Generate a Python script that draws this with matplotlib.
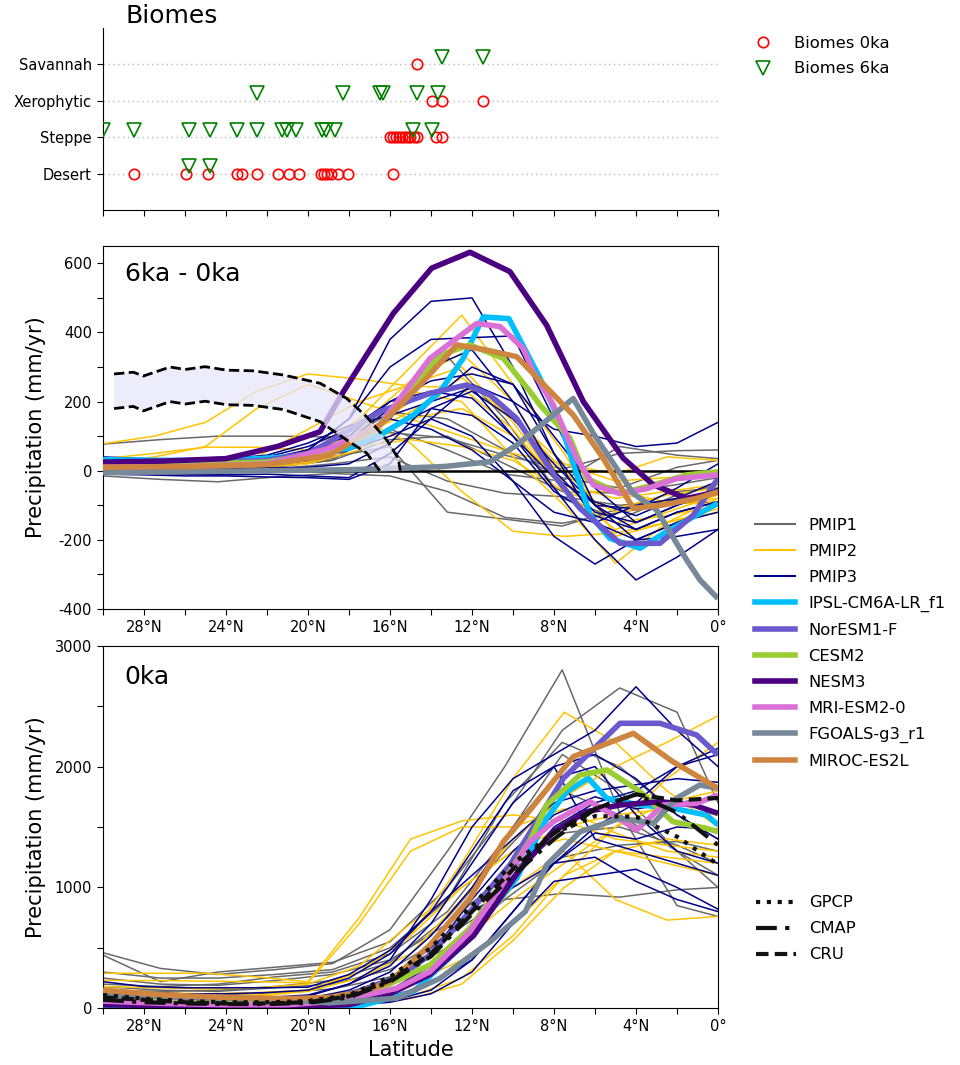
import numpy as np
import matplotlib.pyplot as plt
from matplotlib.lines import Line2D

plt.rcParams['font.family'] = ['DejaVu Sans']
plt.rcParams['axes.unicode_minus'] = False

# ---------------- biome sites (latitude) ----------------
biome_names = ['Desert', 'Steppe', 'Xerophytic', 'Savannah']
desert_0ka = [28.47, 25.97, 24.86, 23.48, 23.2, 22.47, 21.46, 20.94, 20.44, 19.35,
              19.2, 19.05, 18.9, 18.55, 18.06, 15.84]
desert_6ka = [25.79, 24.78]
steppe_0ka = [15.98, 15.85, 15.7, 15.55, 15.4, 15.25, 15.1, 15.0, 14.85, 14.7, 13.76, 13.45]
steppe_6ka = [29.98, 28.47, 25.79, 24.78, 23.48, 22.47, 21.28, 21.04, 20.59, 19.33,
              19.12, 18.68, 14.86, 13.97]
xero_0ka = [13.97, 13.45, 11.45]
xero_6ka = [22.47, 18.28, 16.49, 16.36, 14.67, 13.64]
sav_0ka = [14.67]
sav_6ka = [13.48, 11.45]

# ---------------- latitude grids of the PMIP ensembles ----------------
lat_p1 = [30, 27.2, 24.4, 21.6, 18.8, 16, 13.2, 10.4, 7.6, 4.8, 2, 0]
lat_p2 = [30, 27.5, 25, 22.5, 20, 17.5, 15, 12.5, 10, 7.5, 5, 2.5, 0]
lat_p3 = [30, 28, 26, 24, 22, 20, 18, 16, 14, 12, 10, 8, 6, 4, 2, 0]

# ---------------- 6ka - 0ka ----------------
d_p1a = [77, 90, 100, 100, 98, 110, 95, 45, 5, 50, 58, 60]
d_p1b = [-15, -25, -32, -18, -8, -15, -60, -135, -152, -120, -95, -90]
d_p1c = [5, 8, 10, 15, 30, 90, 100, 20, -60, -65, -40, -20]
d_p1d = [0, 2, 5, 10, 30, 150, 330, 150, -80, -140, -70, -40]
d_p1e = [10, 12, 15, 25, 60, 170, 150, 60, -20, -50, 10, 30]
d_p1f = [0, 0, 3, 5, 20, 40, -30, -65, -75, -100, -85, -70]
d_p1g = [5, 5, 8, 12, 40, 70, -120, -140, -160, -110, -60, -50]
d_p1h = [3, 5, 8, 15, 35, 120, 60, -10, -30, 70, 45, 35]

d_p2a = [78, 100, 140, 230, 280, 265, 245, 240, 120, -60, -170, -120, -70]
d_p2b = [35, 50, 68, 68, 60, 100, 200, 250, 150, 0, -150, -130, -100]
d_p2c = [20, 40, 70, 180, 250, 200, 150, 180, 100, -40, -120, -100, -80]
d_p2d = [10, 12, 15, 20, 50, 150, 300, 450, 250, 50, -190, -150, -80]
d_p2e = [5, 8, 10, 15, 30, 120, 230, 200, 40, -100, -268, -150, -110]
d_p2f = [15, 15, 20, 25, 50, 150, 80, -60, -175, -190, -180, -150, -120]
d_p2g = [8, 10, 12, 20, 40, 100, 170, 270, 150, 20, -30, -20, -10]
d_p2h = [0, 2, 5, 10, 20, 60, 150, 100, 50, 20, -10, 40, 30]
d_p2i = [12, 14, 18, 25, 45, 130, 260, 340, 200, -40, -80, -60, -40]
d_p2j = [3, 5, 8, 12, 25, 70, 90, 70, 30, -60, -110, -70, -50]
d_p2k = [25, 30, 35, 40, 120, 200, 250, 300, 140, -60, -60, -90, -100]

d_p3a = [5, 8, 10, 12, 20, 60, 150, 380, 490, 500, 300, 50, -150, -200, -150, -100]
d_p3b = [10, 12, 15, 20, 30, 60, 150, 300, 380, 385, 390, 150, -100, -170, -120, -90]
d_p3c = [-5, -8, -10, -12, -10, -15, -20, 50, 150, 100, -30, -190, -270, -200, -150, -120]
d_p3d = [0, 2, 5, 5, 8, 10, 20, 80, 200, 240, 100, -50, -200, -316, -250, -170]
d_p3e = [20, 22, 25, 28, 30, 40, 60, 100, 150, 250, 200, 120, 100, 70, 80, 140]
d_p3f = [30, 25, 20, 22, 30, 50, 90, 180, 300, 350, 200, 0, -120, -150, -100, -60]
d_p3g = [-10, -12, -15, -15, -18, -20, -25, 20, 180, 230, 150, 20, -100, -200, -190, -170]
d_p3h = [15, 18, 20, 25, 35, 60, 100, 200, 260, 280, 250, 100, -50, -150, -100, -50]
d_p3i = [10, 12, 15, 18, 25, 50, 80, 150, 120, 60, -30, -120, -150, -100, -80, -60]
d_p3j = [25, 28, 30, 32, 40, 70, 120, 200, 230, 210, 100, -20, -90, -130, -80, -30]
d_p3k = [5, 5, 8, 10, 15, 30, 60, 120, 180, 160, 80, -60, -130, -170, -120, -90]
d_p3l = [40, 35, 30, 35, 45, 80, 130, 160, 200, 300, 250, 50, -100, -110, -50, 20]

ipsl_d_lat = [30, 27, 24, 21, 18, 16.5, 14.86, 13.56, 12.43, 11.45, 10.2, 8.68, 7.71, 6.73,
              6.24, 5.27, 3.8, 2.5, 1.04, 0]
ipsl_d = [32, 30, 30, 40, 65, 103, 161, 229, 325, 445, 440, 267, 142, -41,
          -128, -196, -224, -176, -128, -94]
noresm_d_lat = [30, 26, 22, 20, 18.93, 16.49, 14.05, 12.26, 11.12, 9.82, 7.87, 6.73, 4.78, 2.83, 1.2, 0]
noresm_d = [20, 22, 30, 50, 84, 171, 224, 248, 219, 151, -23, -109, -210, -210, -128, -22]
cesm_d_lat = [30, 26, 22, 19, 16.8, 15.19, 13.56, 12.1, 10.47, 9.17, 8.68, 7.22, 6.41, 4.78, 3.15, 1.53, 0]
cesm_d = [15, 18, 25, 55, 113, 229, 335, 364, 325, 229, 190, 94, -22, -66, -41, -12, -3]
nesm_d_lat = [30, 27, 24, 21.5, 19.41, 18.27, 17.14, 15.84, 13.97, 12.1, 10.15, 8.36, 6.57, 4.62, 3.15, 1.53, 0]
nesm_d = [25, 28, 35, 70, 113, 229, 335, 455, 586, 632, 576, 421, 200, 36, -41, -80, -61]
mri_d_lat = [30, 26, 22, 18.93, 16.49, 14.05, 11.77, 10.63, 9.5, 9.01, 8.03, 6.9, 6.08, 4.78, 3.48, 2.02, 0]
mri_d = [10, 12, 20, 65, 132, 325, 426, 417, 354, 286, 190, 36, -41, -66, -52, -23, -12]
fgoals_d_lat = [30, 26, 22, 18, 15.68, 13.4, 11.12, 9.82, 7.06, 6.08, 4.13, 2.99, 1.53, 0.88, 0]
fgoals_d = [-5, -3, 0, 3, 7, 12, 26, 74, 209, 108, -66, -114, -258, -316, -370]
miroc_d_lat = [30, 26, 22, 18.93, 16.49, 14.54, 12.75, 11.28, 9.82, 7.06, 5.6, 4.13, 2.67, 1.04, 0]
miroc_d = [10, 12, 18, 45, 132, 248, 364, 349, 330, 161, 36, -109, -99, -80, -61]

# pollen-based reconstruction band (6ka - 0ka)
recon_hi_lat = [29.46, 28.52, 28.03, 26.73, 25.99, 25.02, 23.97, 22.67, 21.2, 19.41, 18.11,
                17.14, 16.16, 15.6, 15.5]
recon_hi = [280, 285, 274, 300, 293, 301, 291, 289, 277, 253, 209, 156, 89, 36, 0]
recon_lo_lat = [29.46, 28.52, 28.03, 26.73, 25.99, 25.02, 23.97, 22.67, 21.2, 19.41, 18.11, 17.14, 16.5]
recon_lo = [180, 186, 173, 200, 193, 201, 191, 189, 177, 142, 89, 51, 0]

# ---------------- 0ka ----------------
c_p1a = [460, 330, 280, 320, 370, 650, 1300, 2000, 2800, 1620, 850, 760]
c_p1b = [440, 220, 300, 340, 380, 550, 1000, 1600, 2300, 2650, 2450, 1700]
c_p1c = [200, 180, 200, 260, 300, 450, 800, 1400, 2100, 1800, 1300, 1100]
c_p1d = [180, 150, 140, 170, 200, 320, 600, 900, 950, 920, 980, 1000]
c_p1e = [250, 200, 190, 230, 280, 400, 700, 1100, 1450, 1500, 1350, 1200]
c_p1f = [150, 140, 150, 180, 230, 380, 750, 1300, 1800, 1600, 1300, 1000]
c_p1g = [120, 100, 110, 130, 160, 260, 500, 900, 1250, 1350, 1380, 1300]
c_p1h = [300, 250, 250, 280, 320, 500, 900, 1700, 2200, 2000, 1600, 1400]

c_p2a = [290, 290, 290, 260, 220, 750, 1400, 1550, 1600, 1550, 1400, 1350, 1300]
c_p2b = [230, 230, 225, 220, 210, 700, 1300, 1500, 1500, 1650, 1450, 1300, 1250]
c_p2c = [140, 130, 120, 130, 150, 300, 600, 1200, 1900, 2450, 2200, 1800, 1500]
c_p2d = [100, 90, 90, 100, 140, 250, 450, 900, 1400, 1750, 2000, 2200, 2420]
c_p2e = [80, 70, 60, 70, 90, 150, 300, 500, 1000, 1300, 900, 730, 760]
c_p2f = [60, 50, 50, 60, 80, 150, 250, 550, 900, 1200, 1500, 1700, 1800]
c_p2g = [30, 25, 25, 30, 40, 60, 80, 200, 560, 1000, 1300, 1400, 1350]
c_p2h = [120, 110, 100, 110, 150, 300, 600, 1000, 1300, 1500, 1600, 1650, 1600]
c_p2i = [50, 40, 40, 50, 60, 100, 200, 400, 700, 1100, 1300, 1200, 1100]
c_p2j = [180, 170, 160, 170, 200, 350, 700, 1000, 1300, 1400, 1300, 1250, 1200]
c_p2k = [20, 15, 15, 20, 30, 50, 100, 250, 600, 1100, 1500, 1900, 2200]

c_p3a = [220, 180, 170, 170, 170, 175, 280, 480, 800, 1300, 1800, 2000, 2100, 1900, 1600, 1400]
c_p3b = [80, 70, 60, 60, 70, 100, 200, 400, 900, 1500, 1900, 2100, 2300, 2660, 2300, 2000]
c_p3c = [30, 25, 20, 20, 25, 30, 50, 100, 200, 400, 800, 1200, 1450, 1400, 1500, 1480]
c_p3d = [40, 35, 30, 30, 30, 40, 60, 150, 350, 700, 1100, 1500, 1700, 1800, 2000, 2100]
c_p3e = [60, 50, 50, 50, 60, 80, 150, 300, 600, 1000, 1500, 1900, 2000, 1600, 1300, 1200]
c_p3f = [20, 15, 12, 12, 15, 20, 30, 60, 150, 400, 800, 1200, 1500, 1700, 2000, 2150]
c_p3g = [100, 90, 80, 80, 90, 110, 200, 350, 700, 1200, 1700, 2000, 1400, 1300, 1200, 1100]
c_p3h = [10, 10, 8, 8, 10, 15, 25, 50, 120, 300, 700, 1050, 1100, 1150, 1000, 820]
c_p3i = [50, 45, 40, 40, 45, 60, 100, 200, 450, 900, 1300, 1600, 1750, 1650, 1700, 1750]
c_p3j = [150, 130, 120, 120, 130, 150, 250, 450, 800, 1100, 1400, 1700, 1800, 1850, 1900, 1870]
c_p3k = [70, 60, 55, 55, 60, 80, 130, 250, 500, 800, 1000, 1200, 1250, 1050, 900, 800]

ipsl_c_lat = [30, 27, 24, 21, 19, 17.3, 14.86, 12.43, 9.82, 8.36, 7.38, 6.33, 5.43, 3.8, 2.2, 0.56, 0]
ipsl_c = [30, 20, 15, 15, 20, 27, 137, 524, 1076, 1572, 1792, 1903, 1738, 1682, 1655, 1599, 1517]
noresm_c_lat = [30, 27, 24, 21, 19, 17.5, 15.68, 14.05, 12.1, 10.15, 7.54, 4.78, 2.83, 1.04, 0]
noresm_c = [100, 80, 70, 70, 80, 140, 248, 441, 800, 1186, 1903, 2358, 2358, 2261, 2096]
cesm_c_lat = [30, 27, 24, 21, 18.5, 16.49, 14.05, 12.1, 10.15, 9.17, 8.36, 6.73, 5.43, 3.8, 2.2, 0.56, 0]
cesm_c = [70, 50, 40, 40, 70, 165, 358, 662, 1130, 1390, 1682, 1930, 1972, 1792, 1544, 1489, 1461]
nesm_c_lat = [30, 27, 24, 21, 18, 16, 14.05, 11.93, 9.66, 8.03, 6.41, 4.78, 2.83, 1.2, 0]
nesm_c = [30, 20, 15, 15, 30, 120, 280, 600, 1150, 1461, 1627, 1682, 1709, 1682, 1613]
mri_c_lat = [30, 27, 24, 21, 18.5, 15.68, 14.05, 12.1, 10.32, 9.17, 8.03, 6.24, 5.1, 3.97, 2.67, 1.04, 0]
mri_c = [60, 40, 30, 30, 60, 165, 303, 634, 1076, 1378, 1544, 1709, 1599, 1475, 1682, 1696, 1765]
fgoals_c_lat = [30, 27, 24, 21, 18.93, 15.68, 13.56, 11.12, 9.4, 8.36, 6.73, 4.78, 3.15, 2.02, 0.88, 0]
fgoals_c = [100, 100, 90, 70, 45, 83, 248, 551, 800, 1186, 1461, 1572, 1531, 1738, 1848, 1820]
miroc_c_lat = [30, 27, 24, 21, 19, 17.5, 16.0, 14.05, 12.1, 10.47, 9.17, 7.06, 4.13, 2.2, 0]
miroc_c = [150, 110, 90, 80, 90, 130, 220, 524, 910, 1378, 1640, 2082, 2275, 2040, 1820]

# observations (0ka), on lat_p3
gpcp = [110, 80, 60, 50, 50, 60, 110, 260, 500, 850, 1200, 1450, 1590, 1585, 1420, 1190]
cmap = [70, 50, 40, 35, 35, 45, 90, 220, 430, 780, 1100, 1400, 1650, 1770, 1620, 1350]
cru = [90, 70, 50, 40, 40, 50, 100, 230, 450, 800, 1150, 1450, 1650, 1770, 1720, 1740]

# ---------------- styles ----------------
c_pmip1, c_pmip2, c_pmip3 = 'dimgray', '#ffc400', 'darkblue'
cmip6_names = ['IPSL-CM6A-LR_f1', 'NorESM1-F', 'CESM2', 'NESM3', 'MRI-ESM2-0',
               'FGOALS-g3_r1', 'MIROC-ES2L']
cmip6_colors = ['deepskyblue', 'slateblue', 'yellowgreen', 'indigo', 'orchid',
                'lightslategray', 'peru']
thin, thick = 1.1, 4.0
fs_tick, fs_lab, fs_title, fs_leg = 10.5, 15, 18, 11.8


def lat_axis(ax, labels=True):
    ticks = np.arange(0, 31, 2)
    ax.set_xlim(30, 0)
    ax.set_xticks(ticks)
    if labels:
        ax.set_xticklabels([('0°' if t == 0 else f'{t}°N') if t % 4 == 0 else '' for t in ticks])
    else:
        ax.set_xticklabels([])
    ax.tick_params(labelsize=fs_tick, length=4.5, width=0.8)


fig = plt.figure(figsize=(9.6, 10.65), dpi=100)
ax0 = fig.add_axes([0.10729, 0.80282, 0.640625, 0.17117])
ax1 = fig.add_axes([0.10729, 0.42817, 0.640625, 0.34113])
ax2 = fig.add_axes([0.10729, 0.05324, 0.640625, 0.34047])

# ---- biomes panel ----
for k, (b0, b6) in enumerate([(desert_0ka, desert_6ka), (steppe_0ka, steppe_6ka),
                              (xero_0ka, xero_6ka), (sav_0ka, sav_6ka)]):
    yk = k + 1
    ax0.axhline(yk, color='#bbbbbb', lw=1.0, ls=(0, (1, 2.5)), zorder=1)
    ax0.plot(b0, [yk] * len(b0), 'o', ms=7.5, mfc='none', mec='red', mew=1.2, zorder=3)
    ax0.plot(b6, [yk + 0.2] * len(b6), 'v', ms=9.5, mfc='none', mec='green', mew=1.2, zorder=3)
ax0.set_ylim(0, 5)
ax0.set_yticks([1, 2, 3, 4])
ax0.set_yticklabels(biome_names)
lat_axis(ax0, labels=False)
ax0.spines['top'].set_visible(False)
ax0.spines['right'].set_visible(False)
ax0.text(0.036, 1.0, 'Biomes', transform=ax0.transAxes, fontsize=fs_title, va='bottom')

bio_handles = [Line2D([], [], ls='none', marker='o', ms=7.5, mfc='none', mec='red', mew=1.2),
               Line2D([], [], ls='none', marker='v', ms=9.5, mfc='none', mec='green', mew=1.2)]
fig.legend(bio_handles, ['Biomes 0ka', 'Biomes 6ka'], loc='center left',
           bbox_to_anchor=(751 / 960, 1 - 56 / 1065), frameon=False, fontsize=fs_leg,
           handlelength=1.45, handletextpad=1.2, labelspacing=0.66, borderpad=0, borderaxespad=0)

# ---- 6ka - 0ka panel ----
for v in [d_p1a, d_p1b, d_p1c, d_p1d, d_p1e, d_p1f, d_p1g, d_p1h]:
    ax1.plot(lat_p1, v, color=c_pmip1, lw=thin, zorder=2)
for v in [d_p2a, d_p2b, d_p2c, d_p2d, d_p2e, d_p2f, d_p2g, d_p2h, d_p2i, d_p2j, d_p2k]:
    ax1.plot(lat_p2, v, color=c_pmip2, lw=thin, zorder=2)
for v in [d_p3a, d_p3b, d_p3c, d_p3d, d_p3e, d_p3f, d_p3g, d_p3h, d_p3i, d_p3j, d_p3k, d_p3l]:
    ax1.plot(lat_p3, v, color=c_pmip3, lw=thin, zorder=2)
ax1.axhline(0, color='black', lw=1.8, zorder=3)
d_lats = [ipsl_d_lat, noresm_d_lat, cesm_d_lat, nesm_d_lat, mri_d_lat, fgoals_d_lat, miroc_d_lat]
d_vals = [ipsl_d, noresm_d, cesm_d, nesm_d, mri_d, fgoals_d, miroc_d]
for la, v, col in zip(d_lats, d_vals, cmip6_colors):
    ax1.plot(la, v, color=col, lw=thick, zorder=4, solid_capstyle='butt')
ax1.fill(recon_hi_lat + recon_lo_lat[::-1], recon_hi + recon_lo[::-1],
         color='lavender', alpha=0.75, lw=0, zorder=5)
ax1.plot(recon_hi_lat, recon_hi, color='black', ls='--', lw=2, zorder=6)
ax1.plot(recon_lo_lat, recon_lo, color='black', ls='--', lw=2, zorder=6)
ax1.set_ylim(-400, 651)
ax1.set_yticks(np.arange(-400, 601, 100))
ax1.set_yticklabels([str(t) if t % 200 == 0 else '' for t in range(-400, 601, 100)])
lat_axis(ax1)
ax1.set_ylabel('Precipitation (mm/yr)', fontsize=fs_lab)
ax1.yaxis.set_label_coords(-0.093, 0.5)
ax1.text(0.035, 0.955, '6ka - 0ka', transform=ax1.transAxes, fontsize=fs_title, va='top')

# ---- 0ka panel ----
for v in [c_p1a, c_p1b, c_p1c, c_p1d, c_p1e, c_p1f, c_p1g, c_p1h]:
    ax2.plot(lat_p1, v, color=c_pmip1, lw=thin, zorder=2)
for v in [c_p2a, c_p2b, c_p2c, c_p2d, c_p2e, c_p2f, c_p2g, c_p2h, c_p2i, c_p2j, c_p2k]:
    ax2.plot(lat_p2, v, color=c_pmip2, lw=thin, zorder=2)
for v in [c_p3a, c_p3b, c_p3c, c_p3d, c_p3e, c_p3f, c_p3g, c_p3h, c_p3i, c_p3j, c_p3k]:
    ax2.plot(lat_p3, v, color=c_pmip3, lw=thin, zorder=2)
c_lats = [ipsl_c_lat, noresm_c_lat, cesm_c_lat, nesm_c_lat, mri_c_lat, fgoals_c_lat, miroc_c_lat]
c_vals = [ipsl_c, noresm_c, cesm_c, nesm_c, mri_c, fgoals_c, miroc_c]
for la, v, col in zip(c_lats, c_vals, cmip6_colors):
    ax2.plot(la, v, color=col, lw=thick, zorder=4, solid_capstyle='butt')
obs_styles = [(0, (1, 1.6)), (0, (5, 2, 1, 2)), (0, (3, 1.5))]
for v, ls in zip([gpcp, cmap, cru], obs_styles):
    ax2.plot(lat_p3, v, color='#111111', lw=3, ls=ls, zorder=5)
ax2.set_ylim(0, 3000)
ax2.set_yticks(np.arange(0, 3001, 500))
ax2.set_yticklabels([str(t) if t % 1000 == 0 else '' for t in range(0, 3001, 500)])
lat_axis(ax2)
ax2.set_ylabel('Precipitation (mm/yr)', fontsize=fs_lab)
ax2.yaxis.set_label_coords(-0.093, 0.5)
ax2.set_xlabel('Latitude', fontsize=fs_lab, labelpad=4)
ax2.text(0.035, 0.947, '0ka', transform=ax2.transAxes, fontsize=fs_title, va='top')

# ---- legends ----
model_handles = [Line2D([], [], color=c_pmip1, lw=1.5), Line2D([], [], color=c_pmip2, lw=1.5),
                 Line2D([], [], color=c_pmip3, lw=1.5)]
model_handles += [Line2D([], [], color=c, lw=thick) for c in cmip6_colors]
fig.legend(model_handles, ['PMIP1', 'PMIP2', 'PMIP3'] + cmip6_names, loc='center left',
           bbox_to_anchor=(755 / 960, 1 - 643.5 / 1065), frameon=False, fontsize=fs_leg,
           handlelength=2.45, handletextpad=0.8, labelspacing=0.67, borderpad=0, borderaxespad=0)
obs_handles = [Line2D([], [], color='#111111', lw=3, ls=ls) for ls in obs_styles]
fig.legend(obs_handles, ['GPCP', 'CMAP', 'CRU'], loc='center left',
           bbox_to_anchor=(756 / 960, 1 - 928.8 / 1065), frameon=False, fontsize=fs_leg,
           handlelength=2.45, handletextpad=0.8, labelspacing=0.67, borderpad=0, borderaxespad=0)

fig.savefig('out.png', dpi=100)
